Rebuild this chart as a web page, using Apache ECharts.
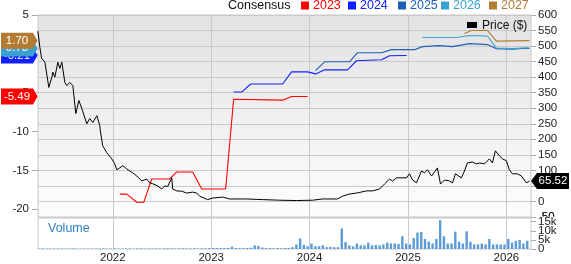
<!DOCTYPE html>
<html><head><meta charset="utf-8">
<script src="https://cdn.jsdelivr.net/npm/echarts@6/dist/echarts.min.js"></script>
<style>html,body{margin:0;padding:0;background:#fff}#c{width:571px;height:264px}</style>
</head><body><div id="c"></div>
<script>
// ---- axis extents / ticks ----
const xMin = 2021.24, xMax = 2026.25;
const yearTicks = [2022, 2023, 2024, 2025, 2026];
const epsTicks = [-20, -15, -10, -5, 0, 5];
const volTicks = [0, 5, 10, 15];

// ---- price ($), x in decimal years ----
const priceDates = [2021.239,2021.259,2021.276,2021.289,2021.310,2021.350,2021.381,2021.391,2021.411,2021.442,2021.462,2021.482,2021.513,2021.533,2021.563,2021.594,2021.624,2021.655,2021.685,2021.695,2021.736,2021.766,2021.797,2021.838,2021.868,2021.873,2021.898,2021.939,2021.990,2022.020,2022.041,2022.071,2022.102,2022.142,2022.173,2022.203,2022.244,2022.294,2022.345,2022.376,2022.406,2022.457,2022.497,2022.528,2022.558,2022.599,2022.609,2022.650,2022.701,2022.751,2022.812,2022.853,2022.883,2022.964,2023.015,2023.117,2023.188,2023.360,2023.523,2023.695,2023.868,2024.030,2024.132,2024.284,2024.335,2024.406,2024.477,2024.579,2024.640,2024.711,2024.761,2024.812,2024.843,2024.883,2024.985,2025.015,2025.046,2025.086,2025.137,2025.168,2025.198,2025.239,2025.269,2025.299,2025.330,2025.371,2025.421,2025.452,2025.482,2025.543,2025.574,2025.604,2025.655,2025.695,2025.726,2025.777,2025.827,2025.858,2025.888,2025.929,2025.959,2026.000,2026.030,2026.061,2026.112,2026.152,2026.203,2026.234];
const priceValues = [548,496,461,464,448,367,400,416,400,448,428,448,383,373,383,373,283,325,299,302,250,267,254,276,244,228,179,157,137,121,102,108,115,105,98,92,82,66,72,60,57,50,40,50,48,76,40,34,33,27,30,27,17,6,11,14,8,8,6,4,3,4,8,8,17,24,27,34,34,40,56,72,66,76,76,89,69,60,98,92,102,82,95,108,56,69,66,60,89,76,98,124,127,121,124,121,137,124,163,147,137,131,102,89,89,82,60,65.52];

// ---- consensus EPS estimates ----
const eps2023Dates = [2022.071,2022.142,2022.244,2022.315,2022.396,2022.579,2022.650,2022.812,2022.904,2023.147,2023.228,2023.726,2023.817,2023.980];
const eps2023Values = [-18.06,-18.06,-19.1,-19.1,-16.1,-16.1,-15.2,-15.2,-17.4,-17.4,-5.85,-5.96,-5.49,-5.49];
const eps2024Dates = [2023.228,2023.310,2023.401,2023.726,2023.817,2023.980,2024.061,2024.152,2024.386,2024.477,2024.731,2024.812,2024.985];
const eps2024Values = [-4.92,-4.92,-3.88,-3.88,-2.32,-2.32,-2.58,-2.06,-2.06,-0.89,-0.76,-0.24,-0.21];
const eps2025Dates = [2024.061,2024.152,2024.406,2024.487,2024.731,2024.832,2025.066,2025.147,2025.320,2025.452,2025.624,2025.807,2025.898,2026.061,2026.203,2026.234];
const eps2025Values = [-2.15,-1.02,-1.02,0.15,0.15,0.54,0.54,0.93,1.06,0.93,1.32,1.19,0.67,0.60,0.72,0.70];
const eps2026Dates = [2025.147,2025.492,2025.624,2025.807,2025.898,2026.061,2026.203,2026.234];
const eps2026Values = [2.10,2.10,2.36,2.30,0.73,0.67,0.78,0.73];
const eps2027Dates = [2025.574,2025.645,2025.807,2025.898,2026.234];
const eps2027Values = [2.62,3.01,3.01,1.64,1.70];

// ---- volume (thousands), one bar per two weeks from volumeStart ----
const volumeStart = 2021.25;
const volumeStepYears = 2 / 52;
const volumeValues = [0.2,0.3,0.2,0.3,0.2,0.2,0.3,0.2,0.2,0.3,0.2,0.2,0.2,0.3,0.2,0.2,0.2,0.3,0.2,0.2,0.3,0.2,0.2,0.3,0.3,0.2,0.3,0.3,0.2,0.3,0.3,0.3,0.2,0.3,0.4,0.3,0.3,0.3,0.4,0.3,0.3,0.4,0.3,
0.4,0.3,0.5,0.6,0.5,0.6,0.5,0.6,1.3,0.5,0.6,0.5,0.6,0.7,2.0,1.7,0.8,0.6,0.5,0.4,0.5,0.4,0.5,0.6,1.0,2.5,5.8,2.3,1.5,3.0,1.5,1.5,2.0,1.0,1.2,1.0,1.0,11.3,3.8,2.0,1.5,3.0,2.0,2.0,3.5,2.0,2.2,2.0,2.5,3.5,3.0,3.0,2.8,7.0,3.0,2.5,6.0,9.0,9.4,5.5,4.0,3.0,5.5,15.8,7.0,3.0,3.0,9.5,4.0,3.0,9.7,4.0,2.5,2.5,3.0,2.5,5.5,2.5,2.5,2.5,2.5,5.5,3.5,4.5,5.0,3.0,4.5];

const seriesDefs = [
  {name:'2023', dates:eps2023Dates, values:eps2023Values, color:'#ff0000', label:'-5.49'},
  {name:'2024', dates:eps2024Dates, values:eps2024Values, color:'#1020ff', label:'-0.21'},
  {name:'2025', dates:eps2025Dates, values:eps2025Values, color:'#1f5fb8', label:'0.70'},
  {name:'2026', dates:eps2026Dates, values:eps2026Values, color:'#3aa2d2', label:'0.73'},
  {name:'2027', dates:eps2027Dates, values:eps2027Values, color:'#b27c33', label:'1.70'}
];

const FONT = 'Arial, "Liberation Sans", sans-serif';
const zip = (a, b) => a.map((v, i) => [v, b[i]]);

const chart = echarts.init(document.getElementById('c'), null, {renderer:'canvas'});
const gridColor = '#c9c9c9';
const lbl = {color:'#222', fontSize:11.5, fontFamily:FONT, hideOverlap:false, showMinLabel:true, showMaxLabel:true};

const option = {
  animation: false,
  textStyle: {fontFamily: FONT},
  grid: [
    {left:38, right:40, top:15, height:202, show:true, borderColor:gridColor, borderWidth:1,
     backgroundColor:{type:'linear', x:0, y:0, x2:0, y2:1, colorStops:[{offset:0,color:'#e2e2e2'},{offset:1,color:'#fdfdfd'}]}},
    {left:38, right:40, top:218, height:35, show:true, borderColor:gridColor, borderWidth:1, backgroundColor:'#ffffff'}
  ],
  xAxis: [
    {gridIndex:0, type:'value', min:xMin, max:xMax, axisLine:{show:false},
     axisTick:{show:false, customValues:yearTicks}, axisLabel:{show:false},
     splitLine:{show:true, lineStyle:{color:gridColor, width:1}}},
    {gridIndex:1, type:'value', min:xMin, max:xMax, axisLine:{show:false},
     axisTick:{show:false, customValues:yearTicks},
     axisLabel:Object.assign({}, lbl, {show:true, customValues:yearTicks, margin:3, formatter: v => String(Math.round(v))}),
     splitLine:{show:true, lineStyle:{color:gridColor, width:1}}}
  ],
  yAxis: [
    {gridIndex:0, type:'value', position:'left', min:-21, max:5,
     axisLine:{show:false},
     axisTick:{show:true, length:6, customValues:epsTicks, lineStyle:{color:'#aaa'}},
     axisLabel:Object.assign({}, lbl, {show:true, customValues:epsTicks, margin:9}),
     splitLine:{show:false}},
    {gridIndex:0, type:'value', position:'right', min:-50, max:600, interval:50,
     axisLine:{show:false},
     axisTick:{show:true, length:5, lineStyle:{color:'#aaa'}},
     axisLabel:Object.assign({}, lbl, {show:true, margin:7}),
     splitLine:{show:true, lineStyle:{color:gridColor, width:1}}},
    {gridIndex:1, type:'value', position:'right', min:0, max:17,
     axisLine:{show:false},
     axisTick:{show:true, length:5, customValues:volTicks, lineStyle:{color:'#aaa'}},
     axisLabel:{show:false},
     splitLine:{show:false}}
  ],
  series: [
    {type:'bar', name:'Volume', xAxisIndex:1, yAxisIndex:2, barWidth:2.4,
     data: volumeValues.map((v, i) => [volumeStart + i * volumeStepYears, v]),
     itemStyle:{color:'#5b9bd8'}, silent:true},
    ...seriesDefs.map(s => ({type:'line', name:s.name, xAxisIndex:0, yAxisIndex:0,
       data: zip(s.dates, s.values), showSymbol:false, symbol:'none',
       lineStyle:{color:s.color, width:1.1}, z:3, silent:true})),
    {type:'line', name:'Price ($)', xAxisIndex:0, yAxisIndex:1, data: zip(priceDates, priceValues),
     showSymbol:false, symbol:'none', lineStyle:{color:'#000', width:1}, z:4, silent:true}
  ]
};
chart.setOption(option);

// ---- annotations: legend, badges, volume tick labels ----
const g = [];
function txt(x, y, text, fill, size, align, z) {
  g.push({type:'text', x:x, y:y, z:z || 100, silent:true,
    style:{text:text, fill:fill, font: size + 'px ' + FONT, align: align || 'left', verticalAlign:'middle'}});
}
function rect(x, y, w, h, fill) {
  g.push({type:'rect', z:100, silent:true, shape:{x:x, y:y, width:w, height:h}, style:{fill:fill}});
}
// top legend
txt(228, 6, 'Consensus', '#111', 12.5);
const legendPos = [301, 348, 398, 441, 489];
seriesDefs.forEach((s, i) => {
  rect(legendPos[i], 1.5, 8, 8, s.color);
  txt(legendPos[i] + 12, 6, s.name, s.color, 12.5);
});
// price legend inside plot
rect(467, 22, 10, 6, '#000');
txt(482, 25.5, 'Price ($)', '#111', 12);
// volume label
txt(48, 229, 'Volume', '#2f80c4', 12.5);
// price axis minimum label (hidden by the library's overlap handling)
txt(538, chart.convertToPixel({yAxisIndex:1}, -50), '-50', '#222', 11.5, 'left', 90);
// volume axis labels
volTicks.forEach(v => {
  const y = chart.convertToPixel({yAxisIndex:2}, v);
  g.push({type:'rect', z:95, silent:true, shape:{x:537, y:y - 5, width:22, height:10}, style:{fill:'#fff'}});
  txt(538, y, v === 0 ? '0' : v + 'k', '#222', 11.5, 'left', 96);
});

// left badges (last consensus values)
[0, 1, 2, 3, 4].forEach(i => {
  const s = seriesDefs[i];
  const last = s.values[s.values.length - 1];
  const y = chart.convertToPixel({yAxisIndex:0}, last);
  g.push({type:'polygon', z:100 + i, silent:true,
    shape:{points:[[1, y - 8], [33, y - 8], [37.5, y], [33, y + 8], [1, y + 8]]},
    style:{fill:s.color}});
  g.push({type:'text', x:17, y:y, z:100 + i, silent:true,
    style:{text:s.label, fill:'#fff', font:'11.5px ' + FONT, align:'center', verticalAlign:'middle'}});
});
// right price badge
{
  const last = priceValues[priceValues.length - 1];
  const y = chart.convertToPixel({yAxisIndex:1}, last);
  g.push({type:'polygon', z:110, silent:true,
    shape:{points:[[531, y], [537, y - 8], [569, y - 8], [569, y + 8], [537, y + 8]]},
    style:{fill:'#000'}});
  g.push({type:'text', x:553, y:y, z:111, silent:true,
    style:{text:last.toFixed(2), fill:'#fff', font:'11.5px ' + FONT, align:'center', verticalAlign:'middle'}});
}
chart.setOption({graphic: g});
</script>
</body></html>
